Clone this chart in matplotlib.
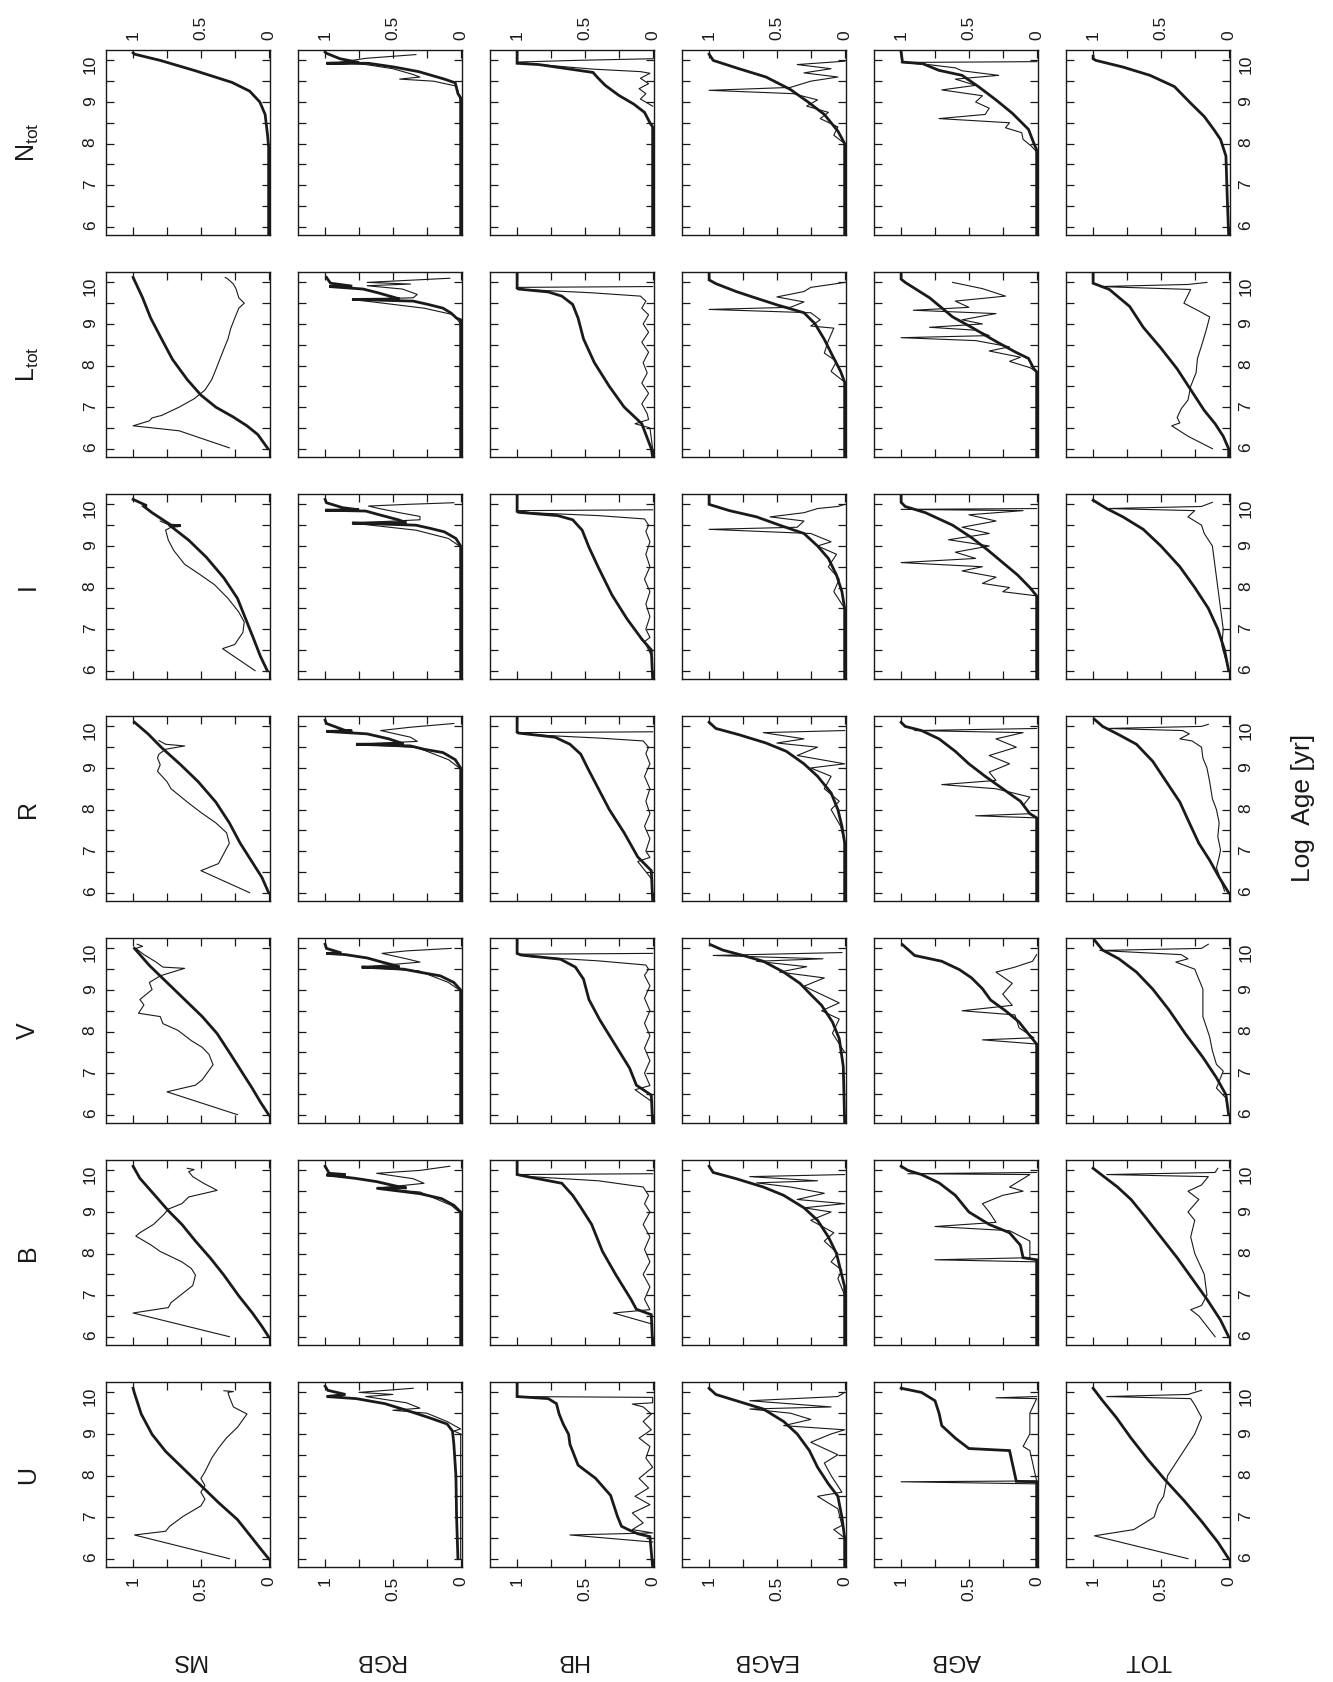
import numpy as np
import matplotlib
matplotlib.use("Agg")
import matplotlib.pyplot as plt

plt.rcParams['font.family'] = ['Liberation Sans', 'DejaVu Sans']
plt.rcParams['mathtext.fontset'] = 'custom'
plt.rcParams['mathtext.rm'] = 'Liberation Sans'

# panel grid: rows = bands, columns = phases
bands = ['N$_{\\rm tot}$', 'L$_{\\rm tot}$', 'I', 'R', 'V', 'B', 'U']
band_keys = ['NT', 'LT', 'I', 'R', 'V', 'B', 'U']
phases = ['MS', 'RGB', 'HB', 'EAGB', 'AGB', 'TOT']

frac_ticks = [1, 0.75, 0.5, 0.25, 0]
frac_labels = ['1', '', '0.5', '', '0']
age_ticks = [6, 6.5, 7, 7.5, 8, 8.5, 9, 9.5, 10]
age_labels = ['6', '', '7', '', '8', '', '9', '', '10']

# curves: list of (log age, fraction); _K = thick line, _T = thin line
# ---- N_tot ----
NT_MS_K = [(5.8, 0), (7.9, 0), (8.2, 0.008), (8.7, 0.026), (9.0, 0.065), (9.26, 0.14), (9.47, 0.27),
           (9.75, 0.54), (10.0, 0.8), (10.15, 0.99), (10.18, 1.0)]
NT_MS_T = []
NT_RGB_K = [(5.8, 0), (9.1, 0), (9.2, 0.02), (9.46, 0.04), (9.55, 0.12), (9.73, 0.31), (9.84, 0.49),
            (9.93, 0.68), (9.93, 0.99), (9.95, 0.75), (10.04, 0.89), (10.17, 0.99), (10.2, 1.0)]
NT_RGB_T = [(9.0, 0), (9.38, 0.03), (9.5, 0.2), (9.55, 0.45), (9.6, 0.3), (9.67, 0.36), (9.8, 0.5),
            (9.9, 0.7), (9.95, 0.9), (10.05, 0.7), (10.14, 0.33)]
NT_HB_K = [(5.8, 0), (8.4, 0), (8.5, 0.02), (8.75, 0.06), (8.95, 0.14), (9.16, 0.25), (9.4, 0.35),
           (9.6, 0.41), (9.71, 0.44), (9.9, 0.84), (9.93, 1.0), (10.2, 1.0)]
NT_HB_T = [(8.9, 0.0), (9.07, 0.09), (9.2, 0.05), (9.32, 0.1), (9.44, 0.03), (9.57, 0.09), (9.69, 0.02),
           (9.73, 0.09), (9.79, 0.44), (9.9, 0.84), (9.96, 1.0), (10.0, 0.57), (10.04, 0.0)]
NT_EAGB_K = [(5.8, 0), (8.0, 0), (8.3, 0.05), (8.7, 0.15), (9.0, 0.27), (9.3, 0.4), (9.6, 0.58),
             (9.8, 0.78), (10.0, 0.97), (10.15, 1.0)]
NT_EAGB_T = [(8.0, 0), (8.2, 0.08), (8.4, 0.05), (8.6, 0.18), (8.75, 0.12), (8.9, 0.28), (9.05, 0.2),
             (9.2, 0.38), (9.28, 1.0), (9.35, 0.4), (9.5, 0.25), (9.6, 0.05), (9.7, 0.3), (9.8, 0.1),
             (9.9, 0.35), (9.98, 0.0)]
NT_AGB_K = [(5.8, 0), (7.85, 0), (8.0, 0.02), (8.34, 0.06), (8.73, 0.18), (9.05, 0.3), (9.37, 0.43),
            (9.64, 0.55), (9.76, 0.72), (9.92, 0.84), (9.96, 0.99), (10.2, 1.0)]
NT_AGB_T = [(7.8, 0.0), (7.94, 0.04), (8.1, 0.1), (8.26, 0.11), (8.38, 0.23), (8.5, 0.2), (8.6, 0.72),
            (8.7, 0.38), (8.85, 0.35), (9.0, 0.45), (9.15, 0.4), (9.29, 0.7), (9.4, 0.45), (9.55, 0.6),
            (9.64, 0.28), (9.75, 0.55), (9.82, 0.6), (9.9, 0.8), (9.95, 1.0), (9.97, 0.0)]
NT_TOT_K = [(5.8, 0), (6.67, 0.01), (7.7, 0.02), (8.1, 0.06), (8.34, 0.11), (8.65, 0.18), (8.97, 0.28),
            (9.37, 0.4), (9.64, 0.58), (9.84, 0.78), (10.0, 0.98), (10.04, 1.0), (10.1, 1.0)]
NT_TOT_T = []

# ---- L_tot ----
LT_MS_K = [(6.0, 0.005), (6.34, 0.08), (6.55, 0.16), (6.76, 0.26), (7.0, 0.39), (7.29, 0.5), (7.66, 0.6),
           (8.15, 0.71), (8.64, 0.79), (9.14, 0.87), (9.63, 0.93), (10.12, 1.0)]
LT_MS_T = [(6.02, 0.29), (6.43, 0.66), (6.55, 1.0), (6.67, 0.88), (6.74, 0.86), (6.8, 0.79), (7.0, 0.66),
           (7.2, 0.55), (7.41, 0.47), (7.66, 0.42), (7.9, 0.39), (8.15, 0.36), (8.4, 0.33), (8.64, 0.3),
           (8.89, 0.28), (9.14, 0.25), (9.38, 0.22), (9.5, 0.18), (9.63, 0.22), (9.84, 0.24), (9.96, 0.26),
           (10.08, 0.3), (10.12, 0.32)]
LT_RGB_K = [(5.8, 0), (9.1, 0), (9.14, 0.03), (9.26, 0.07), (9.38, 0.13), (9.47, 0.24), (9.55, 0.35),
            (9.59, 0.8), (9.6, 0.45), (9.63, 0.48), (9.75, 0.61), (9.84, 0.72), (9.9, 0.97), (9.91, 0.8),
            (9.98, 0.96), (10.12, 0.99)]
LT_RGB_T = [(9.0, 0), (9.22, 0.05), (9.38, 0.27), (9.59, 0.8), (9.63, 0.35), (9.71, 0.32), (9.84, 0.43),
            (9.92, 0.69), (9.96, 0.37), (10.0, 0.69), (10.1, 0.08)]
LT_HB_K = [(5.8, 0), (6.0, 0.01), (6.6, 0.08), (7.0, 0.21), (7.5, 0.32), (8.07, 0.43), (8.64, 0.51),
           (9.14, 0.55), (9.47, 0.59), (9.67, 0.67), (9.77, 0.77), (9.84, 0.99), (9.86, 1.0), (10.2, 1.0)]
LT_HB_T = [(6.0, 0.0), (6.5, 0.02), (6.6, 0.13), (6.7, 0.03), (6.84, 0.04), (7.08, 0.08), (7.33, 0.03),
           (7.58, 0.08), (7.82, 0.04), (8.07, 0.07), (8.32, 0.03), (8.56, 0.08), (8.8, 0.03), (9.0, 0.07),
           (9.22, 0.03), (9.38, 0.08), (9.55, 0.05), (9.67, 0.09), (9.75, 0.45), (9.83, 0.95), (9.88, 1.0),
           (9.9, 0.0)]
LT_EAGB_K = [(5.8, 0), (7.6, 0), (7.86, 0.03), (8.24, 0.09), (8.63, 0.15), (9.01, 0.22), (9.27, 0.3),
             (9.46, 0.5), (9.65, 0.68), (9.78, 0.8), (9.97, 0.95), (10.06, 1.0), (10.2, 1.0)]
LT_EAGB_T = [(7.6, 0), (7.86, 0.1), (8.1, 0.06), (8.3, 0.15), (8.6, 0.12), (8.9, 0.08), (8.95, 0.25),
             (9.1, 0.18), (9.27, 0.25), (9.35, 1.0), (9.4, 0.4), (9.53, 0.3), (9.65, 0.5), (9.78, 0.3),
             (9.88, 0.25), (9.95, 0.1), (10.0, 0.0)]
LT_AGB_K = [(5.8, 0), (7.85, 0), (7.92, 0.02), (8.17, 0.06), (8.33, 0.16), (8.58, 0.3), (8.92, 0.48),
            (9.17, 0.62), (9.63, 0.79), (10.0, 0.97), (10.08, 1.0), (10.2, 1.0)]
LT_AGB_T = [(7.85, 0), (7.95, 0.05), (8.1, 0.2), (8.2, 0.12), (8.35, 0.35), (8.45, 0.2), (8.6, 0.45),
            (8.67, 1.0), (8.72, 0.35), (8.85, 0.45), (8.92, 0.79), (9.0, 0.4), (9.1, 0.55), (9.25, 0.3),
            (9.33, 0.91), (9.4, 0.5), (9.55, 0.6), (9.67, 0.23), (9.85, 0.4), (10.0, 0.62)]
LT_TOT_K = [(5.8, 0), (6.0, 0.0), (6.3, 0.04), (6.6, 0.1), (6.92, 0.18), (7.42, 0.28), (7.92, 0.38),
            (8.42, 0.5), (8.92, 0.63), (9.42, 0.73), (9.83, 0.88), (9.98, 1.0), (10.2, 1.0)]
LT_TOT_T = [(6.0, 0.12), (6.3, 0.3), (6.55, 0.42), (6.62, 0.36), (6.75, 0.38), (6.96, 0.35), (7.17, 0.3),
            (7.5, 0.28), (7.83, 0.24), (8.17, 0.23), (8.58, 0.19), (8.92, 0.16), (9.17, 0.14), (9.33, 0.23),
            (9.5, 0.33), (9.7, 0.3), (9.83, 0.28), (9.9, 0.95), (9.95, 0.3), (10.0, 0.16)]

# ---- I ----
I_MS_K = [(6.0, 0.01), (6.34, 0.06), (6.76, 0.11), (7.25, 0.17), (7.74, 0.23), (8.23, 0.33), (8.73, 0.46),
          (9.14, 0.59), (9.47, 0.72), (9.49, 0.65), (9.5, 0.72), (9.8, 0.86), (9.95, 0.92), (9.97, 0.9),
          (10.12, 1.0)]
I_MS_T = [(6.0, 0.1), (6.53, 0.34), (6.63, 0.25), (6.92, 0.19), (7.17, 0.18), (7.41, 0.22), (7.74, 0.3),
          (8.07, 0.4), (8.32, 0.51), (8.56, 0.62), (8.89, 0.7), (9.14, 0.74), (9.38, 0.76), (9.47, 0.71),
          (9.6, 0.8)]
I_RGB_K = [(5.8, 0), (9.0, 0), (9.18, 0.035), (9.34, 0.12), (9.42, 0.22), (9.5, 0.33), (9.55, 0.8),
           (9.56, 0.4), (9.63, 0.46), (9.75, 0.6), (9.84, 0.7), (9.86, 1.0), (9.87, 0.75), (9.92, 0.87),
           (10.04, 0.99), (10.12, 1.0)]
I_RGB_T = [(9.0, 0.01), (9.18, 0.09), (9.38, 0.33), (9.55, 0.8), (9.63, 0.3), (9.71, 0.3), (9.8, 0.45),
           (9.9, 0.6), (9.96, 0.68), (10.0, 0.4), (10.04, 0.05)]
I_HB_K = [(5.8, 0), (6.5, 0.01), (6.76, 0.08), (7.25, 0.19), (7.82, 0.3), (8.48, 0.4), (8.97, 0.47),
          (9.38, 0.52), (9.63, 0.59), (9.73, 0.7), (9.81, 0.99), (9.83, 1.0), (10.2, 1.0)]
I_HB_T = [(6.3, 0), (6.7, 0.06), (6.8, 0.02), (7.0, 0.05), (7.3, 0.02), (7.6, 0.05), (7.9, 0.02),
          (8.2, 0.06), (8.5, 0.02), (8.8, 0.05), (9.1, 0.02), (9.35, 0.05), (9.5, 0.03), (9.65, 0.06),
          (9.73, 0.4), (9.8, 0.9), (9.85, 1.0), (9.87, 0.0)]
I_EAGB_K = [(5.8, 0), (7.5, 0), (7.9, 0.02), (8.3, 0.06), (8.7, 0.12), (9.0, 0.2), (9.3, 0.3), (9.5, 0.48),
            (9.7, 0.65), (9.85, 0.85), (10.0, 1.0), (10.2, 1.0)]
I_EAGB_T = [(7.5, 0), (7.9, 0.08), (8.2, 0.04), (8.5, 0.12), (8.8, 0.06), (9.0, 0.2), (9.1, 0.1),
            (9.3, 0.25), (9.4, 1.0), (9.45, 0.35), (9.6, 0.3), (9.7, 0.55), (9.8, 0.3), (9.9, 0.2),
            (9.95, 0.05), (10.0, 0.0)]
I_AGB_K = [(5.8, 0), (7.8, 0), (8.0, 0.05), (8.3, 0.14), (8.6, 0.25), (8.9, 0.36), (9.2, 0.48), (9.5, 0.62),
           (9.8, 0.82), (9.95, 0.97), (10.05, 1.0), (10.2, 1.0)]
I_AGB_T = [(7.8, 0), (7.9, 0.25), (8.0, 0.2), (8.1, 0.4), (8.25, 0.3), (8.4, 0.55), (8.5, 0.4), (8.6, 1.0),
           (8.7, 0.45), (8.85, 0.6), (9.0, 0.35), (9.15, 0.65), (9.3, 0.35), (9.45, 0.55), (9.6, 0.3),
           (9.75, 0.5), (9.85, 0.1), (9.88, 1.0), (9.9, 0.0)]
I_TOT_K = [(6.0, 0), (6.5, 0.03), (7.0, 0.08), (7.5, 0.15), (8.0, 0.25), (8.5, 0.36), (9.0, 0.5), (9.4, 0.63),
           (9.7, 0.78), (9.9, 0.9), (10.1, 1.0)]
I_TOT_T = [(6.0, 0.0), (6.6, 0.05), (7.0, 0.04), (7.5, 0.06), (8.0, 0.08), (8.5, 0.1), (9.0, 0.12),
           (9.3, 0.18), (9.5, 0.2), (9.7, 0.3), (9.85, 0.25), (9.9, 0.9), (9.95, 0.2), (10.05, 0.12)]

# ---- R ----
R_MS_K = [(6.0, 0.0), (6.37, 0.05), (6.78, 0.13), (7.19, 0.21), (7.68, 0.29), (8.18, 0.39), (8.67, 0.52),
          (9.08, 0.65), (9.49, 0.79), (9.82, 0.89), (10.1, 0.99)]
R_MS_T = [(6.0, 0.14), (6.53, 0.5), (6.7, 0.37), (7.19, 0.29), (7.44, 0.31), (7.68, 0.39), (7.93, 0.5),
          (8.18, 0.6), (8.5, 0.72), (8.67, 0.75), (8.92, 0.82), (9.08, 0.8), (9.24, 0.82), (9.33, 0.81),
          (9.45, 0.76), (9.53, 0.62), (9.57, 0.76), (9.66, 0.81)]
R_RGB_K = [(5.8, 0), (9.0, 0), (9.2, 0.04), (9.37, 0.13), (9.45, 0.27), (9.53, 0.37), (9.57, 0.77),
           (9.58, 0.42), (9.7, 0.53), (9.82, 0.69), (9.88, 0.99), (9.89, 0.8), (9.9, 0.85), (10.07, 0.99),
           (10.15, 1.0)]
R_RGB_T = [(9.0, 0.01), (9.2, 0.09), (9.49, 0.32), (9.57, 0.77), (9.64, 0.32), (9.74, 0.37), (9.9, 0.59),
           (9.98, 0.37), (10.07, 0.05)]
R_HB_K = [(5.8, 0), (6.53, 0.01), (6.86, 0.11), (7.44, 0.21), (8.0, 0.32), (8.5, 0.4), (9.0, 0.48),
          (9.33, 0.53), (9.57, 0.61), (9.74, 0.72), (9.84, 0.99), (9.86, 1.0), (10.2, 1.0)]
R_HB_T = [(6.3, 0), (6.75, 0.11), (6.85, 0.02), (7.0, 0.05), (7.3, 0.02), (7.6, 0.06), (7.9, 0.02),
          (8.2, 0.05), (8.5, 0.02), (8.8, 0.06), (9.1, 0.02), (9.35, 0.05), (9.5, 0.03), (9.65, 0.07),
          (9.72, 0.4), (9.8, 0.9), (9.85, 1.0), (9.87, 0.0)]
R_EAGB_K = [(5.8, 0), (7.2, 0), (7.6, 0.02), (8.0, 0.05), (8.4, 0.1), (8.8, 0.2), (9.1, 0.3), (9.4, 0.43),
            (9.6, 0.58), (9.8, 0.78), (9.95, 0.95), (10.1, 1.0)]
R_EAGB_T = [(7.2, 0), (7.6, 0.03), (8.0, 0.1), (8.2, 0.04), (8.5, 0.15), (8.8, 0.1), (9.0, 0.25), (9.1, 0.0),
            (9.3, 0.35), (9.5, 0.2), (9.6, 0.5), (9.7, 0.3), (9.85, 0.6), (9.9, 0.0)]
R_AGB_K = [(5.8, 0), (7.8, 0), (7.9, 0.05), (8.2, 0.12), (8.5, 0.25), (8.8, 0.38), (9.1, 0.5), (9.4, 0.6),
           (9.7, 0.72), (9.9, 0.85), (10.0, 0.97), (10.1, 1.0)]
R_AGB_T = [(7.8, 0), (7.85, 0.45), (7.9, 0.05), (8.1, 0.1), (8.3, 0.05), (8.5, 0.3), (8.6, 0.7), (8.7, 0.3),
           (8.9, 0.35), (9.1, 0.2), (9.3, 0.35), (9.5, 0.15), (9.7, 0.3), (9.85, 0.1), (9.9, 0.9),
           (9.95, 0.0)]
R_TOT_K = [(6.0, 0.0), (6.37, 0.07), (6.78, 0.14), (7.19, 0.22), (7.68, 0.29), (8.18, 0.36), (8.67, 0.46),
           (9.16, 0.56), (9.57, 0.68), (9.8, 0.81), (10.0, 0.93), (10.17, 0.99)]
R_TOT_T = [(6.04, 0.03), (6.6, 0.09), (6.86, 0.07), (7.03, 0.06), (7.35, 0.08), (7.68, 0.07), (8.0, 0.09),
           (8.26, 0.12), (8.67, 0.14), (9.0, 0.16), (9.24, 0.19), (9.5, 0.2), (9.65, 0.27), (9.7, 0.36),
           (9.82, 0.29), (9.9, 0.34), (9.95, 0.9), (10.0, 0.2), (10.05, 0.15)]

# ---- V ----
V_MS_K = [(6.0, 0), (6.3, 0.06), (6.63, 0.12), (7.04, 0.2), (7.45, 0.28), (7.95, 0.38), (8.36, 0.49),
          (8.77, 0.62), (9.18, 0.75), (9.59, 0.88), (10.0, 0.99)]
V_MS_T = [(6.0, 0.23), (6.55, 0.75), (6.71, 0.54), (6.84, 0.49), (7.2, 0.41), (7.45, 0.44), (7.62, 0.49),
          (7.78, 0.57), (8.03, 0.67), (8.19, 0.78), (8.36, 0.8), (8.44, 0.96), (8.64, 0.92), (8.77, 0.95),
          (9.01, 0.86), (9.18, 0.88), (9.34, 0.8), (9.52, 0.62), (9.55, 0.78), (9.67, 0.83), (9.85, 0.92),
          (10.0, 0.98), (10.05, 0.93), (10.1, 0.97)]
V_RGB_K = [(5.8, 0), (9.0, 0), (9.18, 0.05), (9.34, 0.15), (9.42, 0.29), (9.5, 0.42), (9.55, 0.73),
           (9.56, 0.45), (9.67, 0.58), (9.77, 0.69), (9.85, 0.85), (9.88, 0.99), (9.89, 0.88), (10.0, 0.99),
           (10.1, 1.0)]
V_RGB_T = [(9.0, 0.01), (9.18, 0.09), (9.46, 0.31), (9.55, 0.73), (9.67, 0.3), (9.75, 0.4), (9.88, 0.58),
           (9.94, 0.4), (10.0, 0.07)]
V_HB_K = [(5.8, 0), (6.47, 0.01), (6.71, 0.12), (7.12, 0.17), (7.7, 0.28), (8.28, 0.39), (8.77, 0.47),
          (9.26, 0.51), (9.55, 0.57), (9.74, 0.68), (9.84, 0.97), (9.88, 1.0), (10.2, 1.0)]
V_HB_T = [(6.3, 0), (6.6, 0.13), (6.7, 0.02), (7.0, 0.06), (7.3, 0.02), (7.6, 0.06), (7.9, 0.02),
          (8.2, 0.06), (8.5, 0.02), (8.8, 0.06), (9.1, 0.02), (9.35, 0.06), (9.5, 0.03), (9.6, 0.05),
          (9.7, 0.4), (9.8, 0.9), (9.86, 1.0), (9.88, 0.0)]
V_EAGB_K = [(5.8, 0), (7.16, 0.01), (7.83, 0.04), (8.23, 0.09), (8.63, 0.17), (8.89, 0.25), (9.16, 0.33),
            (9.43, 0.45), (9.69, 0.6), (9.83, 0.75), (9.96, 0.9), (10.09, 0.99)]
V_EAGB_T = [(7.5, 0), (7.96, 0.09), (8.3, 0.04), (8.5, 0.17), (8.69, 0.04), (9.09, 0.3), (9.29, 0.15),
            (9.43, 0.48), (9.56, 0.28), (9.69, 0.65), (9.75, 0.16), (9.83, 0.97), (9.9, 0.02)]
V_AGB_K = [(5.8, 0), (7.7, 0), (7.9, 0.05), (8.23, 0.13), (8.5, 0.23), (8.76, 0.34), (9.03, 0.4),
           (9.29, 0.48), (9.49, 0.57), (9.69, 0.7), (9.83, 0.9), (10.09, 0.99)]
V_AGB_T = [(7.7, 0), (7.8, 0.4), (7.85, 0.02), (8.09, 0.13), (8.4, 0.16), (8.5, 0.55), (8.63, 0.18),
           (8.9, 0.25), (9.16, 0.18), (9.43, 0.3), (9.55, 0.16), (9.69, 0.03), (9.85, 0.0)]
V_TOT_K = [(6.0, 0.0), (6.48, 0.02), (6.89, 0.09), (7.38, 0.19), (7.95, 0.32), (8.52, 0.44), (9.02, 0.56),
           (9.43, 0.68), (9.75, 0.81), (9.96, 0.93), (10.2, 0.99)]
V_TOT_T = [(6.0, 0.0), (6.4, 0.02), (6.64, 0.09), (6.8, 0.07), (7.05, 0.04), (7.21, 0.09), (7.54, 0.12),
           (7.87, 0.14), (8.36, 0.19), (9.02, 0.19), (9.5, 0.25), (9.67, 0.39), (9.75, 0.3), (9.85, 0.35),
           (9.95, 0.95), (10.0, 0.2), (10.1, 0.15)]

# ---- B ----
B_MS_K = [(6.0, 0), (6.25, 0.05), (6.57, 0.12), (6.98, 0.22), (7.48, 0.33), (7.89, 0.43), (8.3, 0.54),
          (8.7, 0.64), (9.03, 0.74), (9.44, 0.85), (9.81, 0.95), (10.1, 1.0)]
B_MS_T = [(6.0, 0.29), (6.57, 1.0), (6.7, 0.74), (6.82, 0.72), (7.23, 0.56), (7.48, 0.54), (7.64, 0.57),
          (7.8, 0.64), (8.05, 0.8), (8.21, 0.87), (8.42, 0.98), (8.5, 0.95), (8.7, 0.85), (8.95, 0.77),
          (9.07, 0.74), (9.2, 0.64), (9.36, 0.59), (9.52, 0.38), (9.69, 0.48), (9.85, 0.56), (9.97, 0.59),
          (10.02, 0.55), (10.05, 0.6)]
B_RGB_K = [(5.8, 0), (9.0, 0), (9.16, 0.05), (9.32, 0.14), (9.44, 0.3), (9.57, 0.62), (9.58, 0.4),
           (9.61, 0.46), (9.73, 0.62), (9.81, 0.78), (9.89, 0.99), (9.9, 0.85), (9.93, 0.97), (10.1, 1.0)]
B_RGB_T = [(9.0, 0.01), (9.16, 0.07), (9.48, 0.3), (9.57, 0.62), (9.69, 0.27), (9.8, 0.35), (9.93, 0.62),
           (10.0, 0.3), (10.1, 0.08)]
B_HB_K = [(5.8, 0), (6.53, 0.01), (6.66, 0.12), (6.9, 0.16), (7.48, 0.27), (8.05, 0.37), (8.7, 0.45),
          (9.11, 0.53), (9.4, 0.59), (9.69, 0.67), (9.84, 0.91), (9.9, 1.0), (10.2, 1.0)]
B_HB_T = [(6.3, 0), (6.57, 0.29), (6.65, 0.02), (6.9, 0.06), (7.2, 0.02), (7.5, 0.07), (7.8, 0.02),
          (8.1, 0.06), (8.4, 0.02), (8.7, 0.07), (9.0, 0.02), (9.2, 0.06), (9.4, 0.03), (9.6, 0.07),
          (9.75, 0.4), (9.85, 0.9), (9.9, 1.0), (9.92, 0.0)]
B_EAGB_K = [(5.8, 0), (7.2, 0), (7.6, 0.03), (8.0, 0.06), (8.4, 0.12), (8.8, 0.2), (9.1, 0.3), (9.4, 0.45),
            (9.6, 0.6), (9.8, 0.8), (9.95, 0.97), (10.1, 1.0)]
B_EAGB_T = [(7.0, 0), (7.4, 0.05), (7.6, 0.02), (7.8, 0.1), (8.0, 0.05), (8.3, 0.15), (8.5, 0.08),
            (8.8, 0.25), (9.0, 0.1), (9.1, 0.3), (9.2, 0.0), (9.3, 0.35), (9.45, 0.15), (9.6, 0.4),
            (9.7, 0.65), (9.75, 0.2), (9.85, 0.7), (9.9, 0.0)]
B_AGB_K = [(5.8, 0), (7.85, 0), (7.9, 0.1), (8.2, 0.12), (8.5, 0.2), (8.7, 0.35), (9.0, 0.5), (9.4, 0.6),
           (9.7, 0.72), (9.9, 0.85), (10.0, 0.95), (10.1, 1.0)]
B_AGB_T = [(7.8, 0), (7.85, 0.75), (7.9, 0.05), (8.3, 0.05), (8.55, 0.2), (8.65, 0.75), (8.75, 0.3),
           (9.0, 0.35), (9.2, 0.4), (9.4, 0.25), (9.5, 0.1), (9.6, 0.2), (9.8, 0.1), (9.9, 0.05),
           (9.92, 0.95), (9.95, 0.0)]
B_TOT_K = [(6.0, 0), (6.4, 0.06), (6.9, 0.16), (7.4, 0.27), (7.9, 0.38), (8.4, 0.5), (8.9, 0.62), (9.3, 0.72),
           (9.6, 0.82), (9.85, 0.92), (10.05, 1.0)]
B_TOT_T = [(6.0, 0.1), (6.5, 0.22), (6.65, 0.28), (6.75, 0.2), (7.0, 0.16), (7.5, 0.18), (8.0, 0.25),
           (8.4, 0.28), (8.8, 0.25), (9.0, 0.3), (9.3, 0.22), (9.5, 0.3), (9.65, 0.2), (9.85, 0.15),
           (9.9, 0.9), (9.95, 0.1), (10.05, 0.08)]

# ---- U ----
U_MS_K = [(6.0, 0), (6.2, 0.05), (6.53, 0.13), (6.94, 0.23), (7.35, 0.37), (7.76, 0.5), (8.17, 0.63),
          (8.58, 0.76), (8.99, 0.86), (9.48, 0.94), (9.98, 0.99), (10.1, 1.0)]
U_MS_T = [(6.0, 0.29), (6.57, 0.99), (6.66, 0.76), (6.78, 0.73), (7.02, 0.63), (7.27, 0.5), (7.43, 0.47),
          (7.6, 0.5), (7.76, 0.47), (7.93, 0.5), (8.09, 0.47), (8.42, 0.42), (8.66, 0.37), (8.91, 0.31),
          (9.16, 0.23), (9.48, 0.16), (9.65, 0.26), (9.89, 0.29), (10.0, 0.3), (10.02, 0.26), (10.04, 0.33)]
U_RGB_K = [(6.0, 0.02), (7.0, 0.03), (8.0, 0.035), (8.75, 0.05), (9.07, 0.06), (9.24, 0.1), (9.4, 0.24),
           (9.57, 0.4), (9.73, 0.56), (9.85, 0.77), (9.9, 0.99), (9.95, 0.85), (10.05, 0.98), (10.15, 1.0)]
U_RGB_T = [(6.0, 0), (9.0, 0.0), (9.07, 0.05), (9.12, 0.0), (9.3, 0.1), (9.5, 0.25), (9.57, 0.5),
           (9.62, 0.3), (9.75, 0.4), (9.9, 0.7), (9.95, 0.5), (10.0, 0.75), (10.1, 0.35)]
U_HB_K = [(5.8, 0), (6.53, 0.02), (6.6, 0.11), (6.7, 0.18), (6.78, 0.23), (7.02, 0.26), (7.52, 0.31),
          (7.93, 0.42), (8.25, 0.55), (8.75, 0.61), (8.99, 0.62), (9.24, 0.66), (9.48, 0.69), (9.73, 0.71),
          (9.85, 0.77), (9.9, 1.0), (10.2, 1.0)]
U_HB_T = [(6.4, 0), (6.57, 0.61), (6.62, 0.0), (6.7, 0.15), (6.86, 0.07), (7.1, 0.15), (7.3, 0.02),
          (7.5, 0.13), (7.7, 0.03), (7.93, 0.1), (8.2, 0.0), (8.42, 0.05), (8.7, 0.02), (8.9, 0.1),
          (9.1, 0.01), (9.3, 0.07), (9.48, 0.01), (9.65, 0.07), (9.72, 0.15), (9.75, 0.0), (9.88, 0.0),
          (9.9, 1.0)]
U_EAGB_K = [(5.8, 0), (6.5, 0), (7.0, 0.02), (7.5, 0.05), (7.8, 0.12), (8.2, 0.2), (8.6, 0.26), (9.0, 0.35),
            (9.3, 0.45), (9.6, 0.6), (9.8, 0.8), (9.95, 0.95), (10.1, 1.0)]
U_EAGB_T = [(6.5, 0), (6.7, 0.08), (6.8, 0.02), (7.2, 0.05), (7.5, 0.2), (7.6, 0.02), (8.0, 0.1),
            (8.3, 0.15), (8.5, 0.05), (8.8, 0.25), (9.0, 0.1), (9.1, 0.0), (9.2, 0.45), (9.35, 0.25),
            (9.5, 0.4), (9.6, 0.7), (9.65, 0.1), (9.8, 0.7), (9.9, 0.05), (10.0, 0.0)]
U_AGB_K = [(5.8, 0), (7.85, 0), (7.86, 0.15), (8.6, 0.2), (8.65, 0.5), (8.9, 0.6), (9.2, 0.7), (9.5, 0.72),
           (9.8, 0.75), (10.0, 0.85), (10.1, 1.0)]
U_AGB_T = [(7.8, 0), (7.85, 1.0), (7.87, 0.0), (8.6, 0.05), (8.7, 0.1), (9.0, 0.05), (9.5, 0.05),
           (9.85, 0.0), (9.87, 0.3), (9.9, 0.0)]
U_TOT_K = [(6.0, 0), (6.4, 0.08), (6.9, 0.2), (7.4, 0.33), (7.9, 0.47), (8.4, 0.6), (8.9, 0.72), (9.4, 0.83),
           (9.8, 0.93), (10.1, 1.0)]
U_TOT_T = [(6.0, 0.3), (6.55, 0.99), (6.7, 0.7), (7.0, 0.55), (7.3, 0.52), (7.5, 0.48), (8.0, 0.45),
           (8.5, 0.35), (9.0, 0.25), (9.4, 0.2), (9.7, 0.25), (9.85, 0.28), (9.9, 0.9), (9.95, 0.3),
           (10.05, 0.2)]

# layout in pixels of the 1333x1682 page
W, H = 1333, 1682
left0, col_step, pw = 106, 192, 164
top0, row_step, ph = 50, 222, 185

fig = plt.figure(figsize=(W / 100, H / 100), dpi=100)
ink = '#1a1a1a'

for j, bk in enumerate(band_keys):
    for i, p in enumerate(phases):
        l = left0 + i * col_step
        t = top0 + j * row_step
        ax = fig.add_axes([l / W, 1 - (t + ph) / H, pw / W, ph / H])
        thick = globals()[bk + '_' + p + '_K']
        thin = globals()[bk + '_' + p + '_T']
        if thin:
            a, f = zip(*thin)
            ax.plot(f, a, color=ink, lw=0.8)
        a, f = zip(*thick)
        ax.plot(f, a, color=ink, lw=2.0, solid_joinstyle='miter')
        ax.set_xlim(1.2, -0.01)
        ax.set_ylim(5.8, 10.25)
        ax.set_xticks(frac_ticks)
        ax.set_yticks(age_ticks)
        ax.set_xticklabels(frac_labels)
        ax.set_yticklabels(age_labels)
        ax.tick_params(direction='in', length=6, width=0.9, color=ink,
                       top=True, right=True, labelsize=12.5, labelcolor=ink,
                       labelbottom=(j == 6), labeltop=(j == 0),
                       labelleft=(i == 0), labelright=(i == 5))
        ax.tick_params(axis='x', labelrotation=90, pad=7)
        ax.tick_params(axis='y', labelrotation=90, pad=6)
        for s in ax.spines.values():
            s.set_linewidth(1.0)
            s.set_color(ink)
        if i == 0:
            fig.text(28 / W, 1 - (t + ph / 2) / H, bands[j], rotation=90, fontsize=18,
                     ha='center', va='center', color=ink)
        if j == 6:
            fig.text((l + pw / 2) / W, 1 - 1660 / H, p, rotation=180, fontsize=17,
                     ha='center', va='center', color=ink)

fig.text(1303 / W, 1 - 808 / H, 'Log  Age [yr]', rotation=90, fontsize=19,
         ha='center', va='center', color=ink)

fig.savefig('out.png', dpi=100)
